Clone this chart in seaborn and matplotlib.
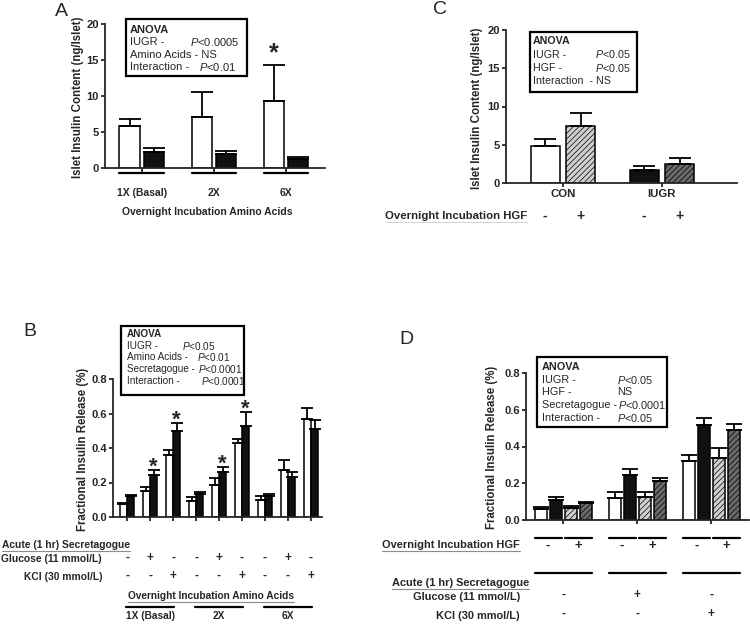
import pandas as pd
import seaborn as sns
import matplotlib.pyplot as plt
from matplotlib import transforms
from matplotlib.lines import Line2D
from matplotlib.patches import Rectangle

# Panel A - islet insulin content, amino acids
a_groups = ['1X (Basal)', '2X', '6X']
a_con = [5.8, 7.1, 9.3]
a_con_err = [1.0, 3.5, 5.0]
a_iugr = [2.2, 1.9, 1.2]
a_iugr_err = [0.6, 0.5, 0.3]
a_anova = [('IUGR -', r'$\it{P}$<0.0005'), ('Amino Acids - NS', ''), ('Interaction -', r'$\it{P}$<0.01')]

# Panel B - fractional insulin release, amino acids x secretagogue
b_groups = ['1X (Basal)', '2X', '6X']
b_glucose = ['-', '+', '-']
b_kcl = ['-', '-', '+']
b_con = [0.075, 0.15, 0.36, 0.095, 0.185, 0.43, 0.10, 0.27, 0.57]
b_con_err = [0.006, 0.025, 0.03, 0.02, 0.04, 0.025, 0.02, 0.06, 0.06]
b_iugr = [0.12, 0.245, 0.50, 0.135, 0.26, 0.53, 0.12, 0.23, 0.51]
b_iugr_err = [0.01, 0.025, 0.045, 0.01, 0.03, 0.08, 0.015, 0.03, 0.05]
b_stars = [0, 1, 1, 0, 1, 1, 0, 0, 0]
b_anova = [('IUGR -', r'$\it{P}$<0.05'), ('Amino Acids -', r'$\it{P}$<0.01'),
           ('Secretagogue -', r'$\it{P}$<0.0001'), ('Interaction -', r'$\it{P}$<0.0001')]

# Panel C - islet insulin content, HGF
c_groups = ['CON', 'IUGR']
c_hgf = ['-', '+']
c_minus = [4.9, 1.7]
c_minus_err = [0.9, 0.5]
c_plus = [7.4, 2.5]
c_plus_err = [1.7, 0.8]
c_anova = [('IUGR -', r'$\it{P}$<0.05'), ('HGF -', r'$\it{P}$<0.05'), ('Interaction  - NS', '')]

# Panel D - fractional insulin release, HGF x secretagogue
d_groups = ['Basal', 'Glucose', 'KCl']
d_glucose = ['-', '+', '-']
d_kcl = ['-', '-', '+']
d_con_minus = [0.06, 0.12, 0.32]
d_con_minus_err = [0.01, 0.03, 0.035]
d_iugr_minus = [0.11, 0.245, 0.515]
d_iugr_minus_err = [0.015, 0.03, 0.04]
d_con_plus = [0.065, 0.125, 0.34]
d_con_plus_err = [0.01, 0.025, 0.05]
d_iugr_plus = [0.09, 0.21, 0.49]
d_iugr_plus_err = [0.01, 0.02, 0.03]
d_anova = [('IUGR -', r'$\it{P}$<0.05'), ('HGF -', 'NS'),
           ('Secretagogue -', r'$\it{P}$<0.0001'), ('Interaction -', r'$\it{P}$<0.05')]

sns.set_style("ticks")
plt.rcParams['font.family'] = ['Liberation Sans', 'DejaVu Sans']
plt.rcParams['mathtext.fontset'] = 'custom'
plt.rcParams['mathtext.it'] = 'Liberation Sans:italic'
plt.rcParams['mathtext.rm'] = 'Liberation Sans'
plt.rcParams['hatch.linewidth'] = 0.5

W, H = 750, 624
fig = plt.figure(figsize=(7.5, 6.24), dpi=100)
FS = 7.5
WHITE, BLACK, LIGHT, DARK = 'white', '#111111', '#cfcfcf', '#6a6a6a'


def fx(x):
    return x / W


def fy(y):
    return 1 - y / H


def px_axes(x0, y0, x1, y1):
    return fig.add_axes([fx(x0), fy(y1), (x1 - x0) / W, (y1 - y0) / H])


def style_axes(ax, ylim, yticks, fmt):
    ax.set_ylim(*ylim)
    ax.set_yticks(yticks)
    ax.set_yticklabels([fmt.format(t) for t in yticks], fontsize=8, fontweight='bold')
    ax.set_xlabel('')
    ax.set_ylabel('')
    ax.set_xticklabels([])
    sns.despine(ax=ax)
    for s in ['left', 'bottom']:
        ax.spines[s].set_linewidth(1.3)
    ax.tick_params(length=3, width=1.3, pad=1.5)
    ax.set_facecolor('none')


def ylabel(x, y, txt):
    fig.text(fx(x), fy(y), txt, rotation=90, ha='center', va='center',
             fontsize=8.3, fontweight='bold')


def panel_letter(x, y, txt):
    fig.text(fx(x), fy(y), txt, ha='center', va='center', fontsize=14)


def anova_box(x0, y0, x1, y1, tx, ty, dy, rows, cols, fs):
    fig.patches.append(Rectangle((fx(x0), fy(y1)), (x1 - x0) / W, (y1 - y0) / H,
                                 transform=fig.transFigure, fill=False, lw=1.6, ec='black'))
    fig.text(fx(tx), fy(ty), 'ANOVA', fontsize=fs, fontweight='bold', va='center')
    for i, ((lab, pv), pxc) in enumerate(zip(rows, cols)):
        y = ty + dy * (i + 1)
        fig.text(fx(tx), fy(y), lab, fontsize=fs, va='center')
        if pv:
            fig.text(fx(pxc), fy(y), pv, fontsize=fs, va='center')


def underline(t, color='0.55', lw=0.8):
    r = fig.canvas.get_renderer()
    bb = t.get_window_extent(r)
    fig.add_artist(Line2D([bb.x0 / W, bb.x1 / W], [(bb.y0 - 0.5) / H] * 2,
                          color=color, lw=lw, transform=fig.transFigure))


def bold_text(x, y, txt, trans=None, ha='center', fs=FS):
    if trans is None:
        return fig.text(fx(x), fy(y), txt, ha=ha, va='center', fontsize=fs,
                        fontweight='bold')
    return fig.text(x, fy(y), txt, ha=ha, va='center', fontsize=fs,
                    fontweight='bold', transform=trans)


def hline(trans, x0, x1, y, lw=1.6):
    fig.add_artist(Line2D([x0, x1], [fy(y)] * 2, color='black', lw=lw, transform=trans))


def draw_bars(ax, df, hue_order, palette, width, gap, capsize):
    order = list(dict.fromkeys(df['x']))
    sns.barplot(data=df, x='x', y='value', hue='hue', order=order, hue_order=hue_order,
                palette=palette, width=width, gap=gap, edgecolor='black', linewidth=1.1,
                errorbar=None, legend=False, saturation=1, ax=ax)
    lookup = {(order.index(r.x), round(r.value, 6)): r for r in df.itertuples()}
    out = []
    for bar in ax.patches:
        cx = bar.get_x() + bar.get_width() / 2
        row = lookup[(int(round(cx)), round(bar.get_height(), 6))]
        ax.errorbar(cx, row.value, yerr=[[0], [row.err]], fmt='none', ecolor='black',
                    elinewidth=1.3, capsize=capsize, capthick=1.3, zorder=3)
        out.append((bar, row))
    return out


# ---------------- Panel A ----------------
axA = px_axes(105, 24, 325, 168)
dfA = pd.DataFrame({'x': a_groups * 2, 'hue': ['CON'] * 3 + ['IUGR'] * 3,
                    'value': a_con + a_iugr, 'err': a_con_err + a_iugr_err})
barsA = draw_bars(axA, dfA, ['CON', 'IUGR'], [WHITE, BLACK], 0.67, 0.15, 8)
axA.set_xlim(-0.51, 2.54)
style_axes(axA, (0, 20), [0, 5, 10, 15, 20], '{:g}')
trA = transforms.blended_transform_factory(axA.transData, fig.transFigure)
for j, g in enumerate(a_groups):
    bs = [b for b, r in barsA if r.x == g]
    hline(trA, min(b.get_x() for b in bs), max(b.get_x() + b.get_width() for b in bs), 173)
    bold_text(j, 193, g, trans=trA)
for b, r in barsA:
    if r.x == '6X' and r.hue == 'CON':
        axA.annotate('*', (b.get_x() + b.get_width() / 2, r.value + r.err), xytext=(0, 3.5),
                     textcoords='offset points', ha='center', va='baseline', fontsize=18,
                     fontweight='bold')
bold_text(207, 212, 'Overnight Incubation Amino Acids')
ylabel(78, 97, 'Islet Insulin Content (ng/Islet)')
panel_letter(61, 11, 'A')
anova_box(126, 19, 247, 76, 130, 30, 12.3, a_anova, [190, 0, 199], 8)

# ---------------- Panel B ----------------
axB = px_axes(113, 379, 322, 517)
b_x = [f'{g}|{gl}|{k}' for g in b_groups for gl, k in zip(b_glucose, b_kcl)]
dfB = pd.DataFrame({'x': b_x * 2, 'hue': ['CON'] * 9 + ['IUGR'] * 9,
                    'value': b_con + b_iugr, 'err': b_con_err + b_iugr_err})
barsB = draw_bars(axB, dfB, ['CON', 'IUGR'], [WHITE, BLACK], 0.65, 0.1, 4.5)
axB.set_xlim(-0.61, 8.48)
style_axes(axB, (0, 0.8), [0, 0.2, 0.4, 0.6, 0.8], '{:.1f}')
axB.set_xticks(range(9))
axB.set_xticklabels([])
for b, r in barsB:
    i = b_x.index(r.x)
    if r.hue == 'IUGR' and b_stars[i]:
        axB.annotate('*', (b.get_x() + b.get_width() / 2, r.value + r.err), xytext=(0, -2),
                     textcoords='offset points', ha='center', va='baseline', fontsize=16,
                     fontweight='bold')
trB = transforms.blended_transform_factory(axB.transData, fig.transFigure)
t = bold_text(2, 545, 'Acute (1 hr) Secretagogue', ha='left', fs=7.4)
underline(t)
bold_text(102, 559, 'Glucose (11 mmol/L)', ha='right', fs=7.4)
bold_text(102, 577, 'KCl (30 mmol/L)', ha='right', fs=7.4)
for i, lab in enumerate(b_x):
    _, gl, k = lab.split('|')
    bold_text(i, 558, gl, trans=trB, fs=8.5)
    bold_text(i, 576, k, trans=trB, fs=8.5)
t = bold_text(211, 596, 'Overnight Incubation Amino Acids', fs=7.3)
underline(t)
for j, g in enumerate(b_groups):
    hline(trB, 3 * j - 0.05, 3 * j + 2.05, 607)
    bold_text(3 * j + 1, 616, g, trans=trB, fs=7.3)
ylabel(83, 449, 'Fractional Insulin Release (%)')
panel_letter(30, 332, 'B')
anova_box(121, 326, 244, 395, 127, 334, 11.7, b_anova, [182, 197, 198, 201], 7.2)

# ---------------- Panel C ----------------
axC = px_axes(506, 30, 737, 183)
dfC = pd.DataFrame({'x': c_groups * 2, 'hue': ['-'] * 2 + ['+'] * 2,
                    'value': c_minus + c_plus, 'err': c_minus_err + c_plus_err})
barsC = draw_bars(axC, dfC, c_hgf, [WHITE, LIGHT], 0.72, 0.19, 8)
c_colors = {('CON', '-'): (WHITE, ''), ('CON', '+'): (LIGHT, '//////'),
            ('IUGR', '-'): (BLACK, ''), ('IUGR', '+'): (DARK, '//////')}
for b, r in barsC:
    col, hatch = c_colors[(r.x, r.hue)]
    b.set_facecolor(col)
    b.set_hatch(hatch)
axC.set_xlim(-0.576, 1.758)
style_axes(axC, (0, 20), [0, 5, 10, 15, 20], '{:g}')
trC = transforms.blended_transform_factory(axC.transData, fig.transFigure)
for j, g in enumerate(c_groups):
    bold_text(j, 194, g, trans=trC, fs=8.2)
for b, r in barsC:
    bold_text(b.get_x() + b.get_width() / 2, 216, r.hue, trans=trC, fs=10)
t = bold_text(385, 216, 'Overnight Incubation HGF', ha='left', fs=8.2)
underline(t, color='0.8', lw=0.6)
ylabel(477, 108, 'Islet Insulin Content (ng/Islet)')
panel_letter(440, 10, 'C')
anova_box(530, 32, 637, 92, 533, 41, 13.5, c_anova, [595, 595, 0], 7.7)

# ---------------- Panel D ----------------
axD = px_axes(526, 373, 749, 520)
d_hue = ['CON -', 'IUGR -', 'CON +', 'IUGR +']
dfD = pd.DataFrame({'x': d_groups * 4, 'hue': [h for h in d_hue for _ in d_groups],
                    'value': d_con_minus + d_iugr_minus + d_con_plus + d_iugr_plus,
                    'err': d_con_minus_err + d_iugr_minus_err + d_con_plus_err + d_iugr_plus_err})
barsD = draw_bars(axD, dfD, d_hue, [WHITE, BLACK, LIGHT, DARK], 0.81, 0.2, 6)
for b, r in barsD:
    if r.hue.endswith('+'):
        b.set_hatch('//////')
axD.set_xlim(-0.5, 2.51)
style_axes(axD, (0, 0.8), [0, 0.2, 0.4, 0.6, 0.8], '{:.1f}')
trD = transforms.blended_transform_factory(axD.transData, fig.transFigure)
for j, g in enumerate(d_groups):
    bs = sorted([b for b, r in barsD if r.x == g], key=lambda b: b.get_x())
    for k, sign in enumerate(['-', '+']):
        x0 = bs[2 * k].get_x()
        x1 = bs[2 * k + 1].get_x() + bs[2 * k + 1].get_width()
        hline(trD, x0, x1, 538)
        bold_text((x0 + x1) / 2, 546, sign, trans=trD, fs=9.5)
    hline(trD, bs[0].get_x(), bs[3].get_x() + bs[3].get_width(), 573)
    bold_text(j, 595, d_glucose[j], trans=trD, fs=8.5)
    bold_text(j, 614, d_kcl[j], trans=trD, fs=8.5)
t = bold_text(382, 545, 'Overnight Incubation HGF', ha='left', fs=7.9)
underline(t)
t = bold_text(392, 583, 'Acute (1 hr) Secretagogue', ha='left', fs=7.9)
underline(t)
bold_text(520, 597, 'Glucose (11 mmol/L)', ha='right', fs=7.9)
bold_text(520, 616, 'KCl (30 mmol/L)', ha='right', fs=7.9)
ylabel(492, 447, 'Fractional Insulin Release (%)')
panel_letter(406, 339, 'D')
anova_box(537, 357, 667, 427, 542, 367, 12.7, d_anova, [617, 617, 618, 617], 7.8)

fig.savefig('out.png', dpi=100)
